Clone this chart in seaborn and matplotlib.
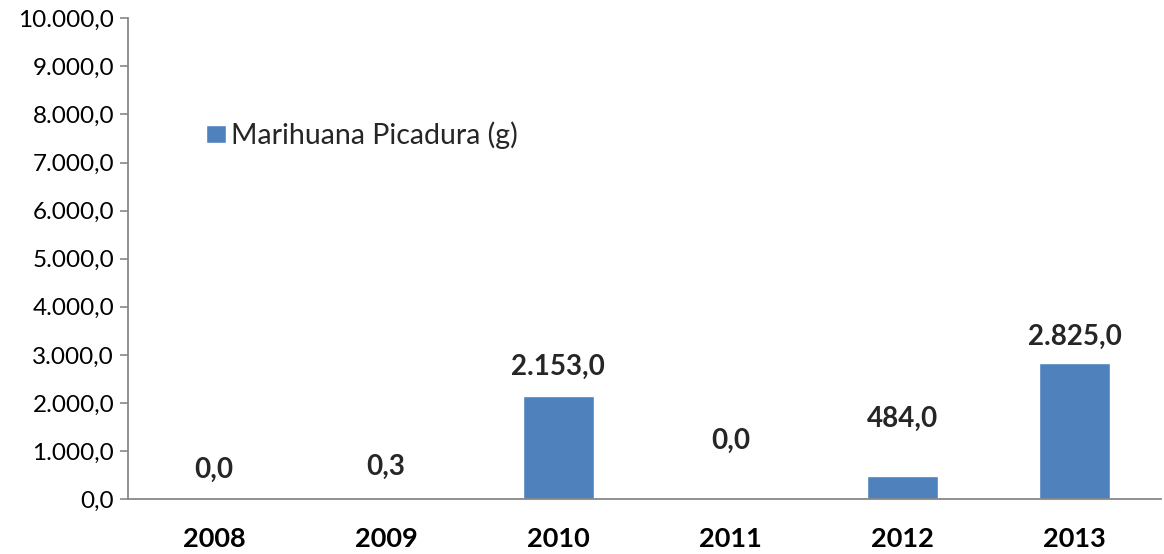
import matplotlib
matplotlib.use("Agg")
import matplotlib.pyplot as plt
import numpy as np
import pandas as pd
import seaborn as sns

# data
years = ["2008", "2009", "2010", "2011", "2012", "2013"]
values = [0.0, 0.3, 2153.0, 0.0, 484.0, 2825.0]
value_labels = ["0,0", "0,3", "2.153,0", "0,0", "484,0", "2.825,0"]
series_name = "Marihuana Picadura (g)"
yticks = np.arange(0, 10001, 1000)

# label offsets above the bar top (points), as Excel placed them
label_offsets = [21, 23, 21, 42, 41, 19]

sns.set_style("white")
plt.rcParams['font.family'] = ['Lato', 'DejaVu Sans']

df = pd.DataFrame({"year": years, "value": values})

fig = plt.figure(figsize=(11.64, 5.54), dpi=100)
ax = fig.add_axes([0.110, 0.099, 0.887, 0.868])

sns.barplot(data=df, x="year", y="value", color="#4F81BD", width=0.41,
            saturation=1, ax=ax, label=series_name)

for i, (v, lab) in enumerate(zip(values, value_labels)):
    ax.annotate(lab, (i, v), xytext=(0, label_offsets[i]), textcoords="offset points",
                ha="center", va="center", fontsize=20, fontweight="bold")

ax.set_ylim(0, 10000)
ax.set_yticks(yticks)
ax.set_yticklabels([f"{t:,.1f}".replace(",", "X").replace(".", ",").replace("X", ".") for t in yticks],
                   fontsize=17.5)
ax.set_xlim(-0.5, 5.5)
ax.tick_params(axis="x", length=0, labelsize=19.5, pad=20, labelcolor="black")
for t in ax.get_xticklabels():
    t.set_fontweight("bold")
ax.tick_params(axis="y", length=6, width=1.2, color="#888888", direction="out", left=True,
               pad=4, labelcolor="black")
ax.set_xlabel("")
ax.set_ylabel("")

for s in ["top", "right"]:
    ax.spines[s].set_visible(False)
for s in ["left", "bottom"]:
    ax.spines[s].set_color("#888888")
    ax.spines[s].set_linewidth(1.3)

ax.legend(loc="center left", bbox_to_anchor=(0.051, 0.757), frameon=False,
          fontsize=20.5, handlelength=0.7, handleheight=0.64, handletextpad=0.15)

fig.savefig("out.png", dpi=100)
